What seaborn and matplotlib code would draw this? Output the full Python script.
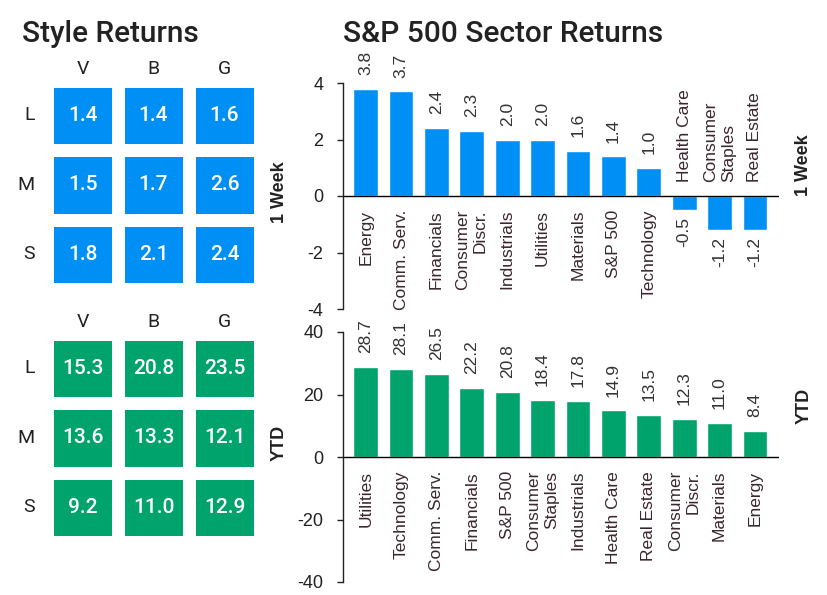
import numpy as np
import pandas as pd
import matplotlib
matplotlib.use("Agg")
import matplotlib.pyplot as plt
import seaborn as sns
from matplotlib.colors import ListedColormap

# ---------------- data ----------------
style_rows = ["L", "M", "S"]
style_cols = ["V", "B", "G"]
style_week = [[1.4, 1.4, 1.6],
              [1.5, 1.7, 2.6],
              [1.8, 2.1, 2.4]]
style_ytd = [[15.3, 20.8, 23.5],
             [13.6, 13.3, 12.1],
             [9.2, 11.0, 12.9]]

week_sectors = ["Energy", "Comm. Serv.", "Financials", "Consumer\nDiscr.", "Industrials",
                "Utilities", "Materials", "S&P 500", "Technology", "Health Care",
                "Consumer\nStaples", "Real Estate"]
week_values = [3.8, 3.7, 2.4, 2.3, 2.0, 2.0, 1.6, 1.4, 1.0, -0.5, -1.2, -1.2]

ytd_sectors = ["Utilities", "Technology", "Comm. Serv.", "Financials", "S&P 500",
               "Consumer\nStaples", "Industrials", "Health Care", "Real Estate",
               "Consumer\nDiscr.", "Materials", "Energy"]
ytd_values = [28.7, 28.1, 26.5, 22.2, 20.8, 18.4, 17.8, 14.9, 13.5, 12.3, 11.0, 8.4]

week_ticks = [-4, -2, 0, 2, 4]
ytd_ticks = [-40, -20, 0, 20, 40]

BLUE = "#0090F5"
GREEN = "#00A36C"
TXT = "#222222"
CAT = "#3a2630"

sns.set_style("white")
plt.rcParams["font.family"] = ["Liberation Sans", "DejaVu Sans"]
plt.rcParams["axes.unicode_minus"] = False

W, H = 827, 595
fig = plt.figure(figsize=(W / 100, H / 100), dpi=100)


def box(x0, y0, x1, y1):
    return [x0 / W, 1 - y1 / H, (x1 - x0) / W, (y1 - y0) / H]


def heat(rect, data, color, side_label, label_xy):
    ax = fig.add_axes(rect)
    df = pd.DataFrame(data, index=style_rows, columns=style_cols)
    sns.heatmap(df, ax=ax, annot=True, fmt=".1f", cmap=ListedColormap([color]),
                cbar=False, linewidths=8, linecolor="white",
                annot_kws=dict(color="white", fontsize=15, fontweight="medium",
                               family="Roboto"))
    ax.xaxis.tick_top()
    ax.tick_params(length=0, labelsize=14, colors=TXT, pad=2)
    ax.tick_params(axis="y", pad=9)
    for t in ax.get_xticklabels() + ax.get_yticklabels():
        t.set_family("Roboto")
    ax.set_yticklabels(style_rows, rotation=0)
    ax.set_xlabel("")
    ax.set_ylabel("")
    fig.text(label_xy[0] / W, 1 - label_xy[1] / H, side_label, rotation=90,
             ha="center", va="center", fontsize=13, fontweight="bold", color=TXT)


def bars(rect, cats, vals, color, ticks, side_label, label_xy):
    ax = fig.add_axes(rect)
    df = pd.DataFrame({"cat": cats, "val": vals})
    sns.barplot(data=df, x="cat", y="val", color=color, saturation=1, width=0.7, ax=ax)
    ax.set_xlim(-0.64, len(cats) - 1 + 0.68)
    ax.set_ylim(ticks[0], ticks[-1])
    ax.set_yticks(ticks)
    ax.set_xticks([])
    ax.set_xlabel("")
    ax.set_ylabel("")
    for s in ["top", "right", "bottom"]:
        ax.spines[s].set_visible(False)
    ax.spines["left"].set_color(TXT)
    ax.spines["left"].set_linewidth(1)
    ax.tick_params(axis="y", left=True, length=4, width=1, colors=TXT,
                   labelsize=13, pad=10)
    ax.axhline(0, color="black", lw=1)
    for i, (c, v) in enumerate(zip(cats, vals)):
        if v >= 0:
            ax.annotate(f"{v:.1f}", xy=(i, v), xytext=(0, 10), textcoords="offset points",
                        rotation=90, ha="center", va="bottom", fontsize=12.5,
                        color="#333333", annotation_clip=False)
            ax.annotate(c, xy=(i, 0), xytext=(0, -10), textcoords="offset points",
                        rotation=90, ha="center", va="top", fontsize=12.5,
                        color=CAT, multialignment="right", annotation_clip=False)
        else:
            ax.annotate(f"{v:.1f}", xy=(i, v), xytext=(0, -5), textcoords="offset points",
                        rotation=90, ha="center", va="top", fontsize=12.5,
                        color="#333333", annotation_clip=False)
            ax.annotate(c, xy=(i, 0), xytext=(0, 10), textcoords="offset points",
                        rotation=90, ha="center", va="bottom", fontsize=12.5,
                        color=CAT, multialignment="left", annotation_clip=False)
    fig.text(label_xy[0] / W, 1 - label_xy[1] / H, side_label, rotation=90,
             ha="center", va="center", fontsize=13, fontweight="bold", color=TXT)


heat(box(47, 80.5, 260, 289), style_week, BLUE, "1 Week", (280, 192))
heat(box(47, 333.5, 260, 542), style_ytd, GREEN, "YTD", (279, 443))

bars(box(343, 83, 779, 309), week_sectors, week_values, BLUE, week_ticks,
     "1 Week", (804, 165))
bars(box(343, 332, 779, 582), ytd_sectors, ytd_values, GREEN, ytd_ticks,
     "YTD", (804, 406))

fig.text(22 / W, 1 - 42 / H, "Style Returns", fontsize=21.5, fontweight="medium",
         family="Roboto", color=TXT, ha="left", va="baseline")
fig.text(343 / W, 1 - 42 / H, "S&P 500 Sector Returns", fontsize=21.5, fontweight="medium",
         family="Roboto", color=TXT, ha="left", va="baseline")

fig.savefig("out.png", dpi=100)
